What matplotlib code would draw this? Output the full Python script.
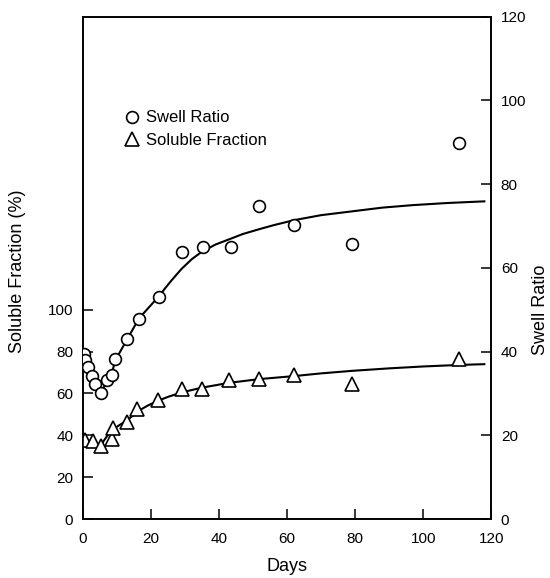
import matplotlib
matplotlib.use('Agg')
import matplotlib.pyplot as plt
from matplotlib.lines import Line2D

plt.rcParams['font.family'] = ['Liberation Sans', 'DejaVu Sans']
plt.rcParams['font.size'] = 11

# data
swell_days  = [0.3, 0.6, 1.6, 2.5, 3.5, 5.2, 7.0, 8.4, 9.4, 13.0, 16.5, 22.4,
               29.2, 35.2, 43.5, 51.6, 62.0, 79.2, 110.4]
swell_ratio = [39.4, 38.0, 36.3, 34.2, 32.2, 30.2, 33.3, 34.3, 38.3, 43.0, 47.8, 53.0,
               63.8, 64.9, 64.9, 74.9, 70.2, 65.7, 89.9]

sol_days     = [0.6, 3.0, 5.2, 8.4, 8.9, 13.0, 16.0, 22.0, 29.0, 35.0, 43.0, 51.6,
                62.0, 79.0, 110.4]
sol_fraction = [37.8, 37.5, 34.9, 38.3, 43.7, 46.3, 52.6, 56.9, 62.0, 62.0, 66.5, 67.1,
                68.7, 64.4, 76.5]

# fitted curves (traced)
swell_fit_days = [0, 1, 2, 3.5, 5.2, 7, 8.4, 9.4, 13, 16.5, 22.4, 24, 26, 29, 32, 35,
                  39, 43.5, 47, 51.6, 56, 62, 70, 79, 88, 97, 107, 118]
swell_fit      = [39.6, 37.8, 35.8, 32.6, 30.4, 32.6, 34.5, 37.8, 43.0, 48.0, 53.3, 55.0,
                  57.0, 59.8, 62.1, 63.9, 65.6, 67.0, 68.1, 69.2, 70.2, 71.4, 72.6, 73.5,
                  74.4, 75.0, 75.5, 75.9]

sol_fit_days = [5.5, 7, 8.9, 11, 13, 16, 19, 22, 25, 29, 35, 43, 52, 62, 70, 79, 90,
                100, 110, 118]
sol_fit      = [36.0, 39.5, 43.0, 45.2, 47.2, 51.4, 54.2, 56.5, 58.4, 60.5, 62.8, 65.1,
                66.9, 68.3, 69.6, 70.8, 72.0, 72.9, 73.6, 74.0]

fig = plt.figure(figsize=(5.5, 5.78), dpi=100)
ax = fig.add_axes([0.151, 0.102, 0.742, 0.869])
ax2 = ax.twinx()

ax.plot(sol_fit_days, sol_fit, color='black', lw=1.5, zorder=2)
ax.plot(sol_days, sol_fraction, linestyle='none', marker='^', ms=9.5, mfc='white',
        mec='black', mew=1.2, zorder=3)

ax2.plot(swell_fit_days, swell_fit, color='black', lw=1.5, zorder=2)
ax2.plot(swell_days, swell_ratio, linestyle='none', marker='o', ms=8.5, mfc='white',
         mec='black', mew=1.2, zorder=3)

ax.set_xlim(0, 120)
ax.set_ylim(0, 240)
ax2.set_ylim(0, 120)
ax.set_xticks(range(0, 121, 20))
ax.set_yticks(range(0, 101, 20))
ax2.set_yticks(range(0, 121, 20))

for a in (ax, ax2):
    for s in a.spines.values():
        s.set_linewidth(1.2)
ax.tick_params(axis='both', direction='in', length=7.5, width=1.1, labelsize=11)
ax.tick_params(axis='y', pad=7)
ax.tick_params(axis='x', pad=9)
ax2.tick_params(axis='y', direction='in', length=7.5, width=1.1, labelsize=11, pad=7)

ax.set_xlabel('Days', fontsize=13, labelpad=9)
ax.set_ylabel('Soluble Fraction (%)', fontsize=13)
ax.yaxis.set_label_coords(-0.14, 0.494)
ax2.set_ylabel('Swell Ratio', fontsize=13)
ax2.yaxis.set_label_coords(1.1, 0.416)

handles = [
    Line2D([], [], linestyle='none', marker='o', ms=8.5, mfc='white', mec='black', mew=1.2),
    Line2D([], [], linestyle='none', marker='^', ms=9.5, mfc='white', mec='black', mew=1.2),
]
ax.legend(handles, ['Swell Ratio', 'Soluble Fraction'], loc='upper left',
          bbox_to_anchor=(0.08, 0.83), frameon=False, handlelength=0.9,
          handletextpad=0.4, labelspacing=0.45, borderpad=0, fontsize=12)

fig.savefig('out.png', dpi=100)
